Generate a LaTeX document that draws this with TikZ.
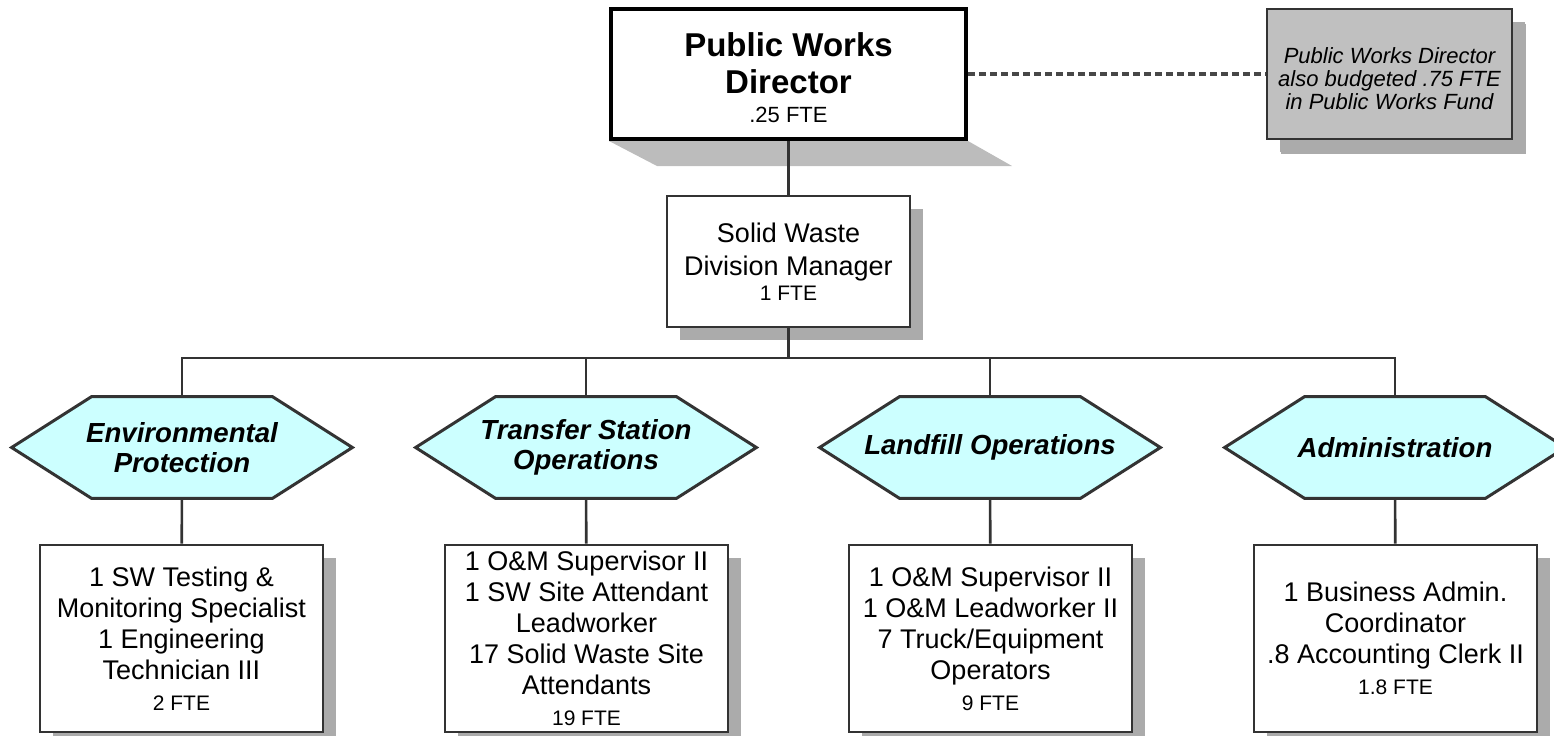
\documentclass[tikz,border=0pt]{standalone}
\usepackage{fontspec}
\setmainfont{Liberation Sans}
\usetikzlibrary{backgrounds,shadows}

\definecolor{lineg}{HTML}{333333}
\definecolor{shade}{HTML}{ABABAB}
\definecolor{notefill}{HTML}{C0C0C0}
\definecolor{hexfill}{HTML}{CCFFFF}

\newcommand{\boxfont}{\fontsize{13.5}{15.5}\selectfont}
\newcommand{\ftefont}{\fontsize{10.5}{15.5}\selectfont}

\begin{document}
\begin{tikzpicture}[x=0.5pt,y=-0.5pt,
  box/.style={draw=lineg, line width=1.4pt, fill=white, align=center, inner sep=0pt,
    font=\boxfont,
    drop shadow={shadow xshift=6.5pt, shadow yshift=-6.5pt, fill=shade, opacity=1}},
  staffbox/.style={box, minimum width=141.5pt, minimum height=93.5pt},
  hexa/.style={minimum width=170pt, minimum height=50.5pt, inner sep=0pt, align=center,
    font=\fontsize{13.8}{15}\selectfont\bfseries\itshape},
  hexline/.style={draw=lineg, line width=1.5pt, fill=hexfill},
  link/.style={draw=lineg, line width=1.3pt}]

\useasboundingbox (0,0) rectangle (1554,735);

% top of the chart
\node[draw=black, line width=2pt, fill=white, align=center, inner sep=0pt,
  minimum width=177.5pt, minimum height=65pt,
  font=\fontsize{16.5}{18.5}\selectfont\bfseries] (dir) at (788.5,74)
  {\rule{0pt}{16pt}Public Works\\Director\\[-4pt]\fontsize{11}{16}\selectfont\mdseries .25 FTE};
\node[box, fill=notefill, font=\fontsize{11}{11.5}\selectfont\itshape,
  minimum width=122.5pt, minimum height=65pt,
  drop shadow={shadow xshift=7pt, shadow yshift=-7.5pt, fill=shade, opacity=1}] (note) at (1389.5,74)
  {\rule{0pt}{13pt}Public Works Director\\also budgeted .75 FTE\\in Public Works Fund};
\node[box, font=\fontsize{13.5}{16.5}\selectfont,
  minimum width=121.5pt, minimum height=65.5pt] (mgr) at (788.5,261.5)
  {Solid Waste\\Division Manager\\[-4pt]\ftefont 1 FTE};

% sections
\node[hexa] (envp) at (182,447.5) {Environmental\\Protection};
\node[hexa] (trans) at (586,447.5) {Transfer Station\\Operations};
\node[hexa] (landf) at (990,447.5) {Landfill Operations};
\node[hexa] (admin) at (1395,447.5) {Administration};

% staff
\node[staffbox] (envstaff) at (181.5,638.5)
  {1 SW Testing \&\\Monitoring Specialist\\1 Engineering\\Technician III\\\ftefont 2 FTE};
\node[staffbox] (transstaff) at (586.5,638.5)
  {1 O\&M Supervisor II\\1 SW Site Attendant\\Leadworker\\17 Solid Waste Site\\Attendants\\\ftefont 19 FTE};
\node[staffbox] (landfstaff) at (990.5,638.5)
  {1 O\&M Supervisor II\\1 O\&M Leadworker II\\7 Truck/Equipment\\Operators\\\ftefont 9 FTE};
\node[staffbox] (adminstaff) at (1395.5,638.5)
  {1 Business Admin.\\Coordinator\\.8 Accounting Clerk II\\\ftefont 1.8 FTE};

\begin{pgfonlayer}{background}
  \fill[shade!80] (dir.south west) -- (dir.south east) -- ++(44,25) -- ++(-355,0) -- cycle;
  \foreach \h in {envp,trans,landf,admin} {
    \fill[gray!25, xshift=2pt, yshift=-2.5pt] (\h.west) -- ([xshift=40pt]\h.north west)
      -- ([xshift=-40pt]\h.north east) -- (\h.east) -- ([xshift=-40pt]\h.south east)
      -- ([xshift=40pt]\h.south west) -- cycle;
    \filldraw[hexline] (\h.west) -- ([xshift=40pt]\h.north west) -- ([xshift=-40pt]\h.north east)
      -- (\h.east) -- ([xshift=-40pt]\h.south east) -- ([xshift=40pt]\h.south west) -- cycle;
  }
\end{pgfonlayer}

% connectors
\coordinate (bus) at (788.5,358);
\draw[link] (dir) -- (mgr);
\draw[link] (mgr) -- (bus);
\foreach \h in {envp,trans,landf,admin}
  \draw[link] (bus) -| (\h.north);
\draw[link] (envp) -- (envstaff);
\draw[link] (trans) -- (transstaff);
\draw[link] (landf) -- (landfstaff);
\draw[link] (admin) -- (adminstaff);
\draw[link, line width=1.7pt, draw=lineg!90, dash pattern=on 3.5pt off 2pt] (dir) -- (note);

\end{tikzpicture}
\end{document}
